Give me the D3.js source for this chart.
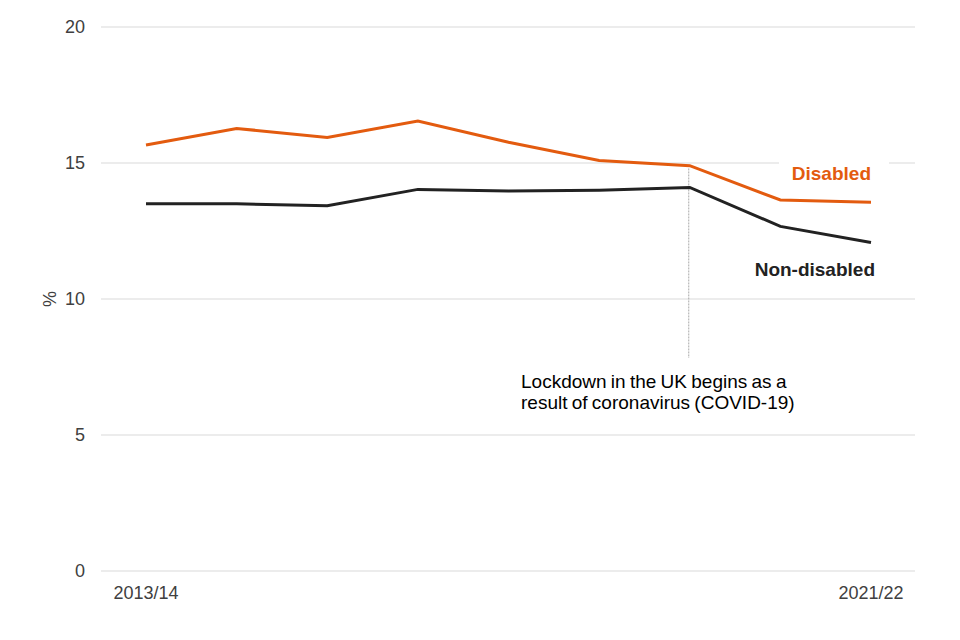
<!DOCTYPE html>
<html>
<head>
<meta charset="utf-8">
<script src="https://cdn.jsdelivr.net/npm/d3@7"></script>
<style>
  body { margin: 0; background: #fff; }
  svg text { font-family: "Liberation Sans", Arial, sans-serif; }
</style>
</head>
<body>
<svg id="chart"></svg>
<script>
var years = ["2013/14", "2014/15", "2015/16", "2016/17", "2017/18",
             "2018/19", "2019/20", "2020/21", "2021/22"];
var disabled = [15.66, 16.27, 15.94, 16.54, 15.76, 15.09, 14.90, 13.64, 13.56];
var nonDisabled = [13.50, 13.50, 13.43, 14.03, 13.97, 14.00, 14.10, 12.67, 12.08];
var yTicks = [0, 5, 10, 15, 20];
var xTickLabels = ["2013/14", "2021/22"];
var lockdownYear = "2019/20";

var width = 960,
    height = 640,
    orange = "#e35b0f",
    black = "#222222";

var svg = d3.select("svg#chart")
    .attr("width", width)
    .attr("height", height);

var x = d3.scalePoint()
    .domain(years)
    .range([146, 871]);

var y = d3.scaleLinear()
    .domain([0, 20])
    .range([571, 27]);

// gridlines
svg.append("g")
    .selectAll("line")
    .data(yTicks)
    .enter()
    .append("line")
        .attr("x1", 101)
        .attr("x2", 915)
        .attr("y1", function(d) { return y(d); })
        .attr("y2", function(d) { return y(d); })
        .style("stroke", "#d9d9d9")
        .style("stroke-width", 1);

// y tick labels
svg.append("g")
    .selectAll("text")
    .data(yTicks)
    .enter()
    .append("text")
        .attr("x", 85)
        .attr("y", function(d) { return y(d); })
        .attr("dy", "0.36em")
        .attr("text-anchor", "end")
        .style("font-size", "18px")
        .style("fill", "#404040")
        .text(function(d) { return d; });

svg.append("text")
    .attr("transform", "translate(" + [56, y(10)] + ") rotate(-90)")
    .attr("text-anchor", "middle")
    .style("font-size", "18px")
    .style("fill", "#404040")
    .text("%");

// x tick labels
svg.append("g")
    .selectAll("text")
    .data(xTickLabels)
    .enter()
    .append("text")
        .attr("x", function(d) { return x(d); })
        .attr("y", 599)
        .attr("text-anchor", "middle")
        .style("font-size", "18px")
        .style("fill", "#404040")
        .text(function(d) { return d; });

// lockdown annotation
svg.append("line")
    .attr("x1", x(lockdownYear) - 1)
    .attr("x2", x(lockdownYear) - 1)
    .attr("y1", y(14.8))
    .attr("y2", 358)
    .style("stroke", "#a8a8a8")
    .style("stroke-width", 1)
    .style("stroke-dasharray", "2,1");

var note = svg.append("text")
    .attr("x", 521)
    .attr("y", 388)
    .style("font-size", "19px")
    .style("fill", "#000")
    .style("word-spacing", "-1px");
note.append("tspan").attr("x", 521).text("Lockdown in the UK begins as a");
note.append("tspan").attr("x", 521).attr("dy", 21).text("result of coronavirus (COVID-19)");

// white box behind the Disabled label
svg.append("rect")
    .attr("x", 779)
    .attr("y", y(15) - 2)
    .attr("width", 110)
    .attr("height", 24)
    .style("fill", "#fff");

var line = d3.line()
    .x(function(d, i) { return x(years[i]); })
    .y(function(d) { return y(d); });

svg.append("path")
    .attr("d", line(nonDisabled))
    .style("fill", "none")
    .style("stroke", black)
    .style("stroke-width", 3);

svg.append("path")
    .attr("d", line(disabled))
    .style("fill", "none")
    .style("stroke", orange)
    .style("stroke-width", 3);

svg.append("text")
    .attr("x", 871)
    .attr("y", 180)
    .attr("text-anchor", "end")
    .style("font-size", "19px")
    .style("font-weight", "bold")
    .style("fill", orange)
    .text("Disabled");

svg.append("text")
    .attr("x", 875)
    .attr("y", 276)
    .attr("text-anchor", "end")
    .style("font-size", "19px")
    .style("font-weight", "bold")
    .style("fill", black)
    .text("Non-disabled");
</script>
</body>
</html>
